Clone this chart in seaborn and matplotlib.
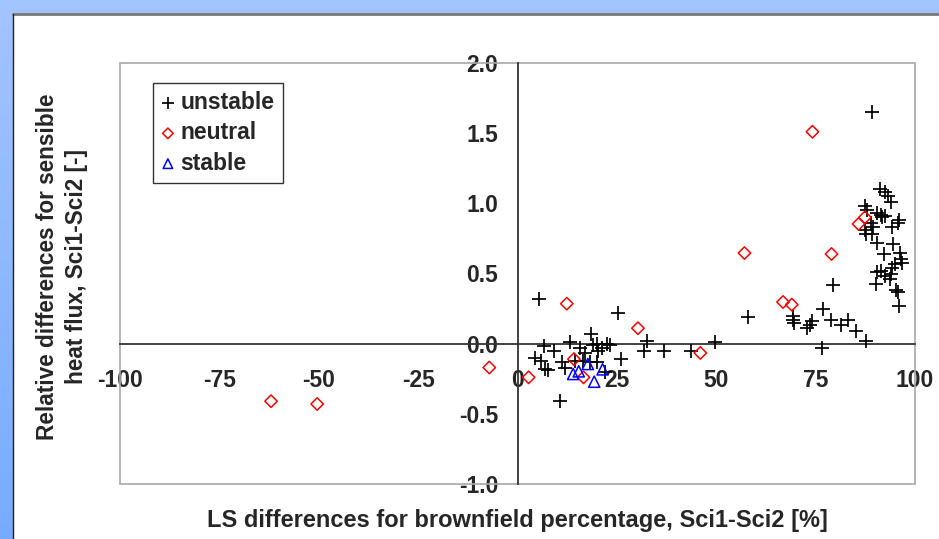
import numpy as np
import pandas as pd
import matplotlib
matplotlib.use("Agg")
import matplotlib.pyplot as plt
from matplotlib.patches import Rectangle
import seaborn as sns

# Daten
unstable_x = [5.4, 25.4, 18.5, 13.2, 6.7, 9.3, 4.4, 5.8, 6.9, 7.6, 11.1, 11.9, 14.5,
              15.7, 16.6, 18.2, 19.9, 19.9, 21.2, 22.4, 20.3, 26.1, 10.7, 22.0, 19.1,
              23.3, 17.0,
              31.7, 32.5, 36.9, 43.7, 49.8, 58.0, 69.2, 69.4, 69.5, 72.9, 73.5, 74.1,
              76.8, 78.8, 79.4, 81.3, 83.2, 85.2, 76.5, 87.6,
              89.3, 91.2, 92.4, 93.3, 93.9, 87.4, 88.0, 90.5, 91.4, 91.8, 92.5, 96.0,
              95.6, 94.3, 88.9, 89.5, 87.4, 87.6, 89.3, 90.5, 94.5, 92.2, 96.2, 96.4,
              96.8, 95.0, 94.3, 91.4, 90.5, 93.9, 92.5, 93.6, 90.1, 95.2, 95.6, 96.0]
unstable_y = [0.32, 0.22, 0.07, 0.01, -0.015, -0.055, -0.10, -0.12, -0.18, -0.19, -0.13,
              -0.17, -0.12, -0.03, -0.12, -0.13, -0.13, 0.00, -0.03, 0.00, -0.05, -0.11,
              -0.41, -0.20, -0.01, -0.01, -0.07,
              -0.05, 0.02, -0.055, -0.055, 0.015, 0.19, 0.20, 0.17, 0.15, 0.115, 0.13,
              0.16, 0.245, 0.17, 0.42, 0.13, 0.17, 0.09, -0.03, 0.02,
              1.65, 1.10, 1.08, 1.05, 1.01, 0.98, 0.95, 0.93, 0.92, 0.905, 0.91, 0.88,
              0.86, 0.83, 0.86, 0.83, 0.81, 0.78, 0.78, 0.715, 0.71, 0.64, 0.645, 0.605,
              0.575, 0.57, 0.54, 0.52, 0.51, 0.50, 0.485, 0.46, 0.425, 0.38, 0.365, 0.265]

neutral_x = [-62.0, -50.4, -7.1, 2.8, 12.4, 14.2, 16.6, 30.3, 46.0, 57.1, 74.2, 66.8,
             69.0, 79.0, 85.8, 87.4]
neutral_y = [-0.41, -0.43, -0.17, -0.24, 0.285, -0.11, -0.24, 0.11, -0.066, 0.646,
             1.51, 0.297, 0.278, 0.639, 0.853, 0.90]

stable_x = [14.0, 15.4, 17.7, 19.3, 21.4]
stable_y = [-0.216, -0.197, -0.145, -0.271, -0.183]

x_ticks = [-100, -75, -50, -25, 0, 25, 50, 75, 100]
y_ticks = [-1.0, -0.5, 0.0, 0.5, 1.0, 1.5, 2.0]

df_u = pd.DataFrame({"x": unstable_x, "y": unstable_y})
df_n = pd.DataFrame({"x": neutral_x, "y": neutral_y})
df_s = pd.DataFrame({"x": stable_x, "y": stable_y})

sns.set_theme(style="white")
plt.rcParams["font.family"] = ["Liberation Sans", "DejaVu Sans"]
plt.rcParams["font.weight"] = "bold"

W, H = 939, 539
fig = plt.figure(figsize=(W / 100, H / 100), dpi=100)

# Hintergrund: blauer Verlauf + weisses Feld
bg = fig.add_axes([0, 0, 1, 1])
bg.set_axis_off()
grad = np.linspace(0, 1, 256).reshape(-1, 1)
top_c = np.array([0.64, 0.77, 1.0])
bot_c = np.array([0.47, 0.67, 1.0])
img = top_c[None, None, :] * (1 - grad[:, :, None]) + bot_c[None, None, :] * grad[:, :, None]
bg.imshow(img, aspect="auto", extent=[0, 1, 0, 1], transform=bg.transAxes)
bg.add_patch(Rectangle((13 / W, 0), 1 - 13 / W, 1 - 14 / H, transform=bg.transAxes,
                       facecolor="white", edgecolor="none"))
bg.plot([13 / W, 1], [1 - 14 / H, 1 - 14 / H], color="#7a7a7a", lw=2, transform=bg.transAxes)
bg.plot([13 / W, 13 / W], [0, 1 - 14 / H], color="#222222", lw=1, transform=bg.transAxes)
bg.set_xlim(0, 1)
bg.set_ylim(0, 1)

ax = fig.add_axes([120 / W, 1 - 484 / H, 795 / W, 421 / H])
ax.set_facecolor("white")

sns.scatterplot(data=df_u, x="x", y="y", marker="+", color="black", s=95,
                linewidth=1.25, label="unstable", ax=ax, zorder=3)
sns.scatterplot(data=df_n, x="x", y="y", marker="D", facecolor="none", edgecolor="red",
                s=40, linewidth=1.1, label="neutral", ax=ax, zorder=3)
sns.scatterplot(data=df_s, x="x", y="y", marker="^", facecolor="none", edgecolor="blue",
                s=65, linewidth=1.1, label="stable", ax=ax, zorder=3)

ax.set_xlim(-100, 100)
ax.set_ylim(-1, 2)
ax.set_xticks(x_ticks)
ax.set_yticks(y_ticks)
ax.set_xticklabels([str(t) for t in x_ticks])
ax.set_yticklabels([f"{t:.1f}" for t in y_ticks])
ax.set_xlabel("")
ax.set_ylabel("")

for side in ["top", "right"]:
    ax.spines[side].set_visible(False)
ax.spines["left"].set_position(("data", 0))
ax.spines["bottom"].set_position(("data", 0))
for side in ["left", "bottom"]:
    ax.spines[side].set_color("#333333")
    ax.spines[side].set_linewidth(1.3)
    ax.spines[side].set_zorder(2)
ax.add_patch(Rectangle((0, 0), 1, 1, transform=ax.transAxes, fill=False,
                       edgecolor="#a8a8a8", lw=1.2, clip_on=False, zorder=1))

ax.tick_params(axis="both", direction="out", length=6, width=1.3, color="#666666",
               labelsize=16.5)
ax.tick_params(axis="y", pad=8)
ax.tick_params(axis="x", pad=12)
for lbl in ax.get_xticklabels() + ax.get_yticklabels():
    lbl.set_fontweight("bold")

leg = ax.legend(loc="upper left", bbox_to_anchor=(0.0415, 0.9525), borderaxespad=0,
                frameon=True, fancybox=False, fontsize=16.5, handlelength=0.6,
                handletextpad=0.25, labelspacing=0.32, borderpad=0.35, markerscale=0.85)
leg.get_frame().set_edgecolor("black")
leg.get_frame().set_linewidth(1.0)
for t in leg.get_texts():
    t.set_fontweight("bold")

fig.text(517 / W, 1 - 521 / H, "LS differences for brownfield percentage, Sci1-Sci2 [%]",
         ha="center", va="center", fontsize=17, fontweight="bold")
fig.text(62 / W, 1 - 267 / H, "Relative differences for sensible\nheat flux, Sci1-Sci2 [-]",
         ha="center", va="center", rotation=90, fontsize=16.3, fontweight="bold",
         multialignment="center", linespacing=1.35)

fig.savefig("out.png", dpi=100)
